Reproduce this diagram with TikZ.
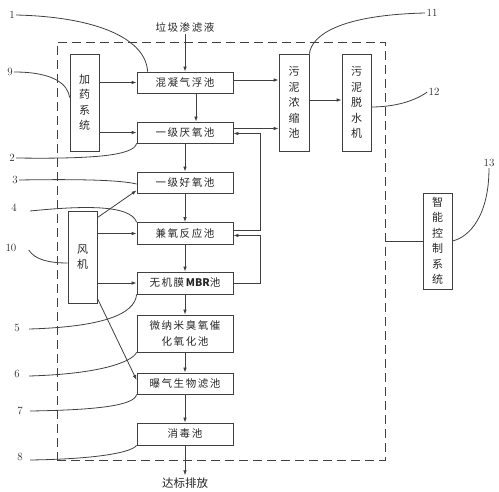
\documentclass[tikz,border=0pt]{standalone}
\usepackage{fontspec}
\newfontfamily\cjk[LetterSpace=15]{Noto Sans CJK SC}
\newfontfamily\cjkv{Noto Sans CJK SC}
\usetikzlibrary{arrows.meta,calc}
\begin{document}
\begin{tikzpicture}[x=1pt,y=-1pt,
  line width=0.8pt, draw=black!75, text=black!85,
  box/.style={draw, rectangle, inner sep=0pt, minimum width=96pt, font=\cjk\fontsize{10.5}{13}\selectfont},
  vbox/.style={draw, rectangle, inner sep=0pt, minimum width=29pt, minimum height=97pt, align=center, font=\cjkv\fontsize{11}{15.5}\selectfont},
  arr/.style={-{Latex[length=5pt,width=3.6pt]}},
  num/.style={inner sep=1pt, font=\fontsize{11}{13}\selectfont},
  frame/.style={draw, dashed, dash pattern=on 9pt off 5pt, rectangle, inner sep=0pt}
]
\useasboundingbox (0,0) rectangle (499,492);

% dashed frame
\node[frame, minimum width=328pt, minimum height=418pt] (fr) at (221,251) {};

% main boxes
\node[box, minimum height=21pt] (hn)  at (185,82.5) {混凝气浮池};
\node[box, minimum height=21pt] (hy)  at (185,132.5) {一级厌氧池};
\node[box, minimum height=21pt] (hao) at (185,182.5) {一级好氧池};
\node[box, minimum height=22pt] (jy)  at (185,233.5) {兼氧反应池};
\node[box, minimum height=22pt] (mbr) at (185,283) {无机膜\,{\cjkv\bfseries MBR}池};
\node[box, minimum height=37pt, align=center, font=\cjk\fontsize{10.5}{17}\selectfont] (wn) at (185,333.5) {微纳米臭氧催\\化氧化池};
\node[box, minimum height=21pt] (pq)  at (185,383.5) {曝气生物滤池};
\node[box, minimum height=22pt] (xd)  at (185,434) {消毒池};

% side boxes
\node[vbox] (jiayao) at (84.5,102.5) {加\\药\\系\\统};
\node[vbox, minimum height=92pt] (fan) at (82.5,257) {风\\机};
\node[vbox, minimum width=30pt] (ns) at (294,102.5) {污\\泥\\浓\\缩\\池};
\node[vbox] (ts) at (356.5,102.5) {污\\泥\\脱\\水\\机};
\node[vbox, minimum height=96pt] (ctrl) at (437.5,241) {智\\能\\控\\制\\系\\统};

% top / bottom labels
\node[inner sep=1pt, font=\cjk\fontsize{10.5}{13}\selectfont] (src) at (185,28) {垃圾渗滤液};
\node[inner sep=1pt, font=\cjkv\fontsize{11.5}{13}\selectfont] (out) at (185,483) {达标排放};

% main flow
\draw[arr] (src) -- (hn);
\draw[arr] ($(hn.south)+(11,0)$) -- ($(hy.north)+(11,0)$);
\draw[arr] (hy) -- (hao);
\draw[arr] (hao) -- (jy);
\draw[arr] (jy) -- (mbr);
\draw[arr] (mbr) -- (wn);
\draw[arr] (wn) -- (pq);
\draw[arr] (pq) -- (xd);
\draw[arr] (xd.south) -- ($(out.north)+(0,-1)$);

% chemical dosing
\draw[arr] (jiayao.east |- hn.west) -- (hn.west);
\draw[arr] (jiayao.east |- hy.west) -- (hy.west);

% to sludge thickener
\draw[arr] ($(hn.east)+(0,-2.5)$) -- ($(ns.west |- hn.east)+(0,-2.5)$);
\draw[arr] ($(hy.east)+(0,-4)$) -- ($(ns.west |- hy.east)+(0,-4)$);
\draw[arr] ($(ns.east)+(0,-2.5)$) -- ($(ts.west)+(0,-2.5)$);

% returns
\draw[arr] ($(jy.east)+(0,-3)$) -- ++(27,0) |- ($(hy.east)+(0,1)$);
\draw[arr] (mbr.east) -- ++(27,0) |- ($(jy.east)+(0,2)$);

% blower
\draw[arr] ($(fan.north east)+(0,7)$) -- ($(hao.south west)+(0,-3)$);
\draw[arr] (fan.east |- jy.west) -- (jy.west);
\draw[arr] (fan.east |- mbr.west) -- (mbr.west);
\draw[arr] ($(fan.south east)+(0,-5)$) -- ($(pq.west)+(0,-3.5)$);

% control system
\draw (fr.east |- ctrl.west) -- (ctrl.west);

% number labels
\node[num] (n1)  at (12,15) {1};
\node[num] (n9)  at (10,72) {9};
\node[num] (n2)  at (12,158) {2};
\node[num] (n3)  at (15,180) {3};
\node[num] (n4)  at (14,208) {4};
\node[num] (n10) at (11,248) {10};
\node[num] (n5)  at (17,328) {5};
\node[num] (n6)  at (17,374) {6};
\node[num] (n7)  at (20,411) {7};
\node[num] (n8)  at (20,457) {8};
\node[num] (n11) at (432,13) {11};
\node[num] (n12) at (434,92) {12};
\node[num] (n13) at (489,163) {13};

\draw (n1.east) .. controls (100,17) and (146,40) .. ($(hn.north west)+(11,0)$);
\draw (n9.east) .. controls (55,72) and (68,85) .. ($(jiayao.west)+(0,-5)$);
\draw (n2.east) .. controls (90,159) and (134,156) .. (hy.south west);
\draw (n3.east) .. controls (80,179) and (120,180) .. ($(hao.west)+(0,1.5)$);
\draw ($(n4.east)+(12,3)$) .. controls (80,206) and (130,204) .. (jy.north west);
\draw ($(n10.east)+(11,2)$) .. controls (35,260) and (50,263) .. ($(fan.west)+(0,6)$);
\draw ($(n5.east)+(8,1)$) .. controls (100,327) and (135,315) .. (mbr.south west);
\draw ($(n6.east)+(8,2)$) .. controls (100,374) and (132,362) .. (wn.south west);
\draw ($(n7.east)+(6,0)$) .. controls (100,410) and (135,405) .. (pq.south west);
\draw ($(n8.east)+(6,3)$) .. controls (100,459) and (132,452) .. (xd.south west);
\draw (n11.west) .. controls (340,15) and (312,35) .. (ns.north east);
\draw (n12.west) .. controls (412,103) and (390,107) .. ($(ts.east)+(0,4.5)$);
\draw (n13.south) .. controls (489,215) and (470,237) .. (ctrl.east);
\end{tikzpicture}
\end{document}
